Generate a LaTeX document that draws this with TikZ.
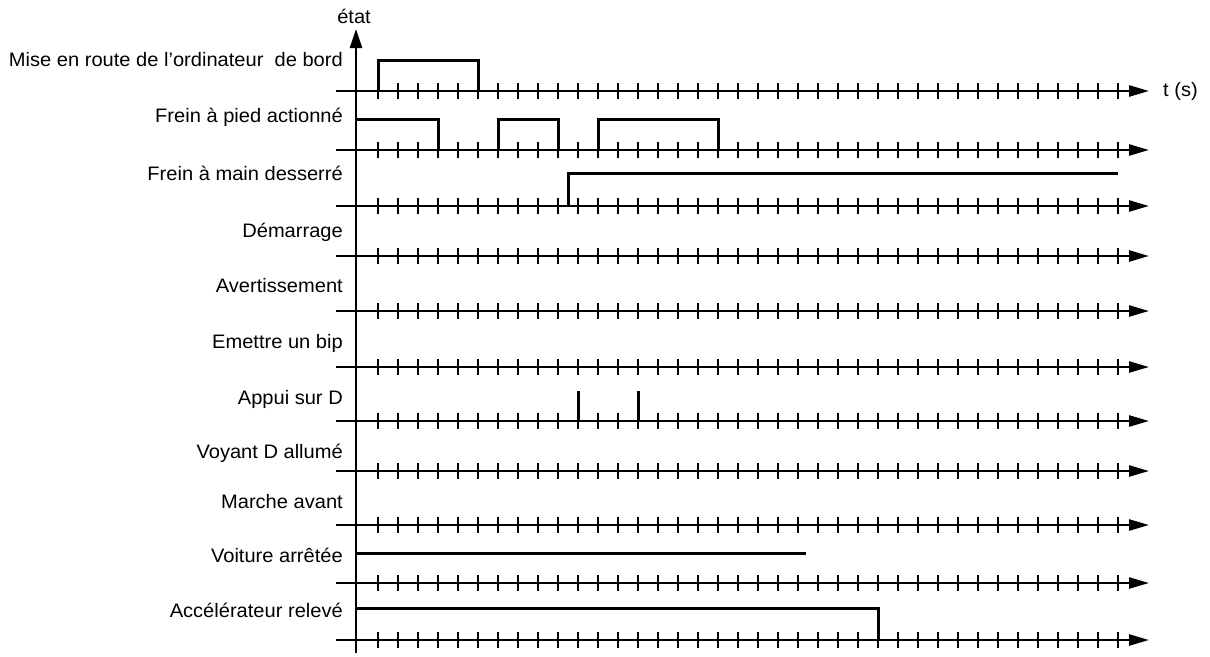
\documentclass[tikz,border=0pt]{standalone}
\usepackage{fontspec}
\setmainfont{Liberation Sans}[FakeStretch=1.03]
\usetikzlibrary{arrows.meta}
\begin{document}
\begin{tikzpicture}[x=1pt,y=-1pt,
  axisline/.style={line width=2.5pt,-{Triangle[length=20pt,width=11pt]}},
  tickmark/.style={line width=2pt},
  signal/.style={line width=3pt,line join=miter},
  lab/.style={anchor=base east,inner sep=0pt,font=\fontsize{19.5}{23}\selectfont}]
\useasboundingbox (0,0) rectangle (1210,656);
% time axes with ticks
\foreach \i/\y in {1/91,2/150,3/206,4/256,5/311,6/367,7/421,8/471,9/525,10/583,11/640}{
  \coordinate (s\i) at (336,\y);
  \coordinate (e\i) at (1149,\y);
  \draw[axisline] (s\i) -- (e\i);
  \foreach \k in {0,...,37}{
    \draw[tickmark] (378+20*\k,\y-8) -- (378+20*\k,\y+8);
  }
}
% vertical axis
\coordinate (vbot) at (356,653);
\coordinate (vtop) at (356,29);
\draw[line width=2.5pt,-{Triangle[length=19pt,width=12pt]}] (vbot) -- (vtop);
\node[anchor=base,inner sep=0pt,font=\fontsize{19.5}{23}\selectfont] (etat) at (354,23) {état};
\node[anchor=base west,inner sep=0pt,font=\fontsize{19.5}{23}\selectfont] (unit) at (1163,96) {t (s)};
% labels
\node[lab] (l1) at (343,66) {Mise en route de l’ordinateur\ \ de bord};
\node[lab] (l2) at (343,122) {Frein à pied actionné};
\node[lab] (l3) at (343,180) {Frein à main desserré};
\node[lab] (l4) at (343,237) {Démarrage};
\node[lab] (l5) at (343,292) {Avertissement};
\node[lab] (l6) at (343,348) {Emettre un bip};
\node[lab] (l7) at (343,404) {Appui sur D};
\node[lab] (l8) at (343,458) {Voyant D allumé};
\node[lab] (l9) at (343,508) {Marche avant};
\node[lab] (l10) at (343,562) {Voiture arrêtée};
\node[lab] (l11) at (343,617) {Accélérateur relevé};
% signals
\draw[signal] (378,91) -- (378,60) -- (478,60) -- (478,91);
\draw[signal] (356,119) -- (438,119) -- (438,150);
\draw[signal] (498,150) -- (498,119) -- (558,119) -- (558,150);
\draw[signal] (598,150) -- (598,119) -- (718,119) -- (718,150);
\draw[signal] (568,206) -- (568,173) -- (1118,173);
\draw[signal] (578,421) -- (578,391);
\draw[signal] (638,421) -- (638,391);
\draw[signal] (356,553) -- (806,553);
\draw[signal] (356,608) -- (878,608) -- (878,640);
\end{tikzpicture}
\end{document}
